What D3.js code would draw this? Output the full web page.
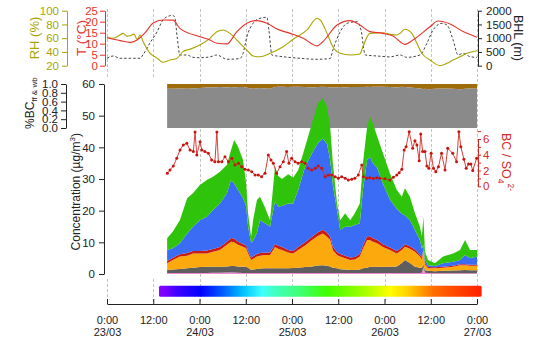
<!DOCTYPE html>
<html><head><meta charset="utf-8">
<script src="https://cdn.jsdelivr.net/npm/d3@7"></script>
<style>
html,body{margin:0;padding:0;background:#fff;}
svg{display:block;font-family:"Liberation Sans",Arial,Helvetica,sans-serif;}
</style></head><body>
<svg id="chart" width="542" height="347"></svg>
<script>
// ---------- time axis (hours since 23/03 00:00) ----------
const tickHours = [0, 12, 24, 36, 48, 60, 72, 84, 96];
const tickTime  = ["0:00", "12:00", "0:00", "12:00", "0:00", "12:00", "0:00", "12:00", "0:00"];
const tickDate  = ["23/03", "", "24/03", "", "25/03", "", "26/03", "", "27/03"];

// ---------- meteorology ----------
const tempHours = [0, 3.4, 6.0, 7.8, 9.9, 11.9, 14.5, 17.1, 18.9, 24.1, 26.7, 28.5, 31.1, 33.7, 37.1, 38.9, 41.5, 44.1, 47.5, 50.9, 54.5, 56.0, 59.7, 63.1, 65.6, 68.2, 71.6, 74.2, 77.3, 79.4, 83.8, 85.9, 89.0, 92.4, 96.0];
const tempC     = [12.7, 11.4, 10.6, 11.7, 15, 19.3, 20.8, 20.7, 17, 13.2, 11.7, 10.2, 9.9, 15.5, 20, 20.5, 19.3, 16.7, 14.7, 12.5, 9, 10.9, 18.5, 20.5, 18.5, 15.5, 14.7, 13.5, 9.7, 11.7, 17.7, 20.3, 19, 15.5, 12.9];

const rhHours = [0, 1.6, 2.6, 4.2, 5.2, 6.0, 7.0, 7.8, 8.6, 9.3, 11.2, 13.0, 14.5, 16.3, 18.2, 19.7, 21.5, 24.1, 26.7, 28.5, 30.1, 31.9, 34.5, 36.3, 37.9, 39.7, 42.3, 45.7, 48.3, 51.9, 54.5, 55.3, 57.1, 58.6, 60.5, 63.1, 65.6, 66.4, 68.2, 71.6, 73.4, 75.2, 76.0, 77.3, 79.1, 80.4, 81.7, 83.8, 86.4, 88.2, 89.8, 91.6, 93.4, 96.0];
const rhPct   = [61.3, 60, 62, 67, 63, 63.6, 66, 58.4, 64.7, 56, 38, 31, 25, 28.3, 31, 40.4, 44, 50, 59.8, 69.5, 72, 67, 52.6, 42.8, 34, 33, 38, 47.6, 58.4, 72, 89, 86.5, 67, 47.6, 38, 35.6, 37, 47.6, 67, 68, 65.6, 64.6, 67, 73, 67, 52.6, 38, 28.3, 20, 23.5, 28.3, 33, 38, 41.8];

const bhlHours = [0, 1.6, 3.4, 6.0, 8.6, 9.3, 11.2, 13.0, 14.5, 16.3, 16.9, 17.6, 18.2, 18.9, 20.8, 22.3, 24.1, 26.7, 28.5, 31.1, 34.5, 35.3, 36.3, 37.9, 39.7, 41.5, 42.0, 42.8, 45.7, 50.1, 54.5, 57.9, 58.6, 60.5, 62.3, 64.9, 65.9, 67.0, 70.1, 73.4, 76.0, 77.8, 81.2, 83.0, 84.6, 86.9, 88.2, 89.8, 91.1, 92.4, 94.2, 96.0];
const bhlM     = [269, 353, 269, 270, 270, 389, 840, 1236, 1662, 1818, 1844, 1750, 1055, 389, 389, 305, 290, 320, 389, 233, 260, 451, 1055, 1542, 1724, 1760, 1300, 389, 327, 270, 233, 260, 571, 1236, 1542, 1600, 1300, 389, 353, 320, 389, 305, 389, 815, 1298, 1542, 1480, 935, 389, 451, 327, 305];

// ---------- aerosol composition (µg/m3) ----------
const compHours = [15.6, 17.1, 18.9, 20.8, 22.3, 24.1, 25.9, 27.5, 29.3, 31.1, 32.2, 33.0, 34.0, 35.3, 36.1, 36.6, 37.4, 37.9, 38.9, 39.7, 41.0, 42.3, 43.6, 44.4, 45.4, 47.0, 48.3, 49.6, 51.4, 53.2, 54.7, 56.0, 57.1, 57.9, 58.6, 59.7, 60.5, 61.8, 63.1, 64.3, 65.6, 66.4, 67.5, 68.2, 69.0, 70.1, 71.6, 73.4, 75.2, 76.5, 77.3, 78.6, 79.9, 81.2, 81.7, 82.1, 82.5, 83.3, 85.1, 87.2, 89.8, 91.6, 92.9, 94.2, 96.0];
const chl = [.3, .3, .3, .3, .3, .3, .3, .4, .4, .5, .5, .5, .4, .3, .3, .3, .3, .3, .3, .3, .3, .3, .3, .3, .3, .3, .3, .3, .3, .3, .3, .3, .3, .3, .3, .3, .3, .3, .3, .3, .3, .3, .3, .3, .3, .3, .3, .3, .3, .3, .3, .3, .3, .3, .4, 2.3, .4, .3, .2, .2, .2, .2, .2, .2, .2];
const bc  = [1.0, 1.1, 1.3, 1.5, 1.7, 1.9, 2.0, 1.9, 1.9, 1.9, 2.0, 2.0, 2.0, 2.0, 2.0, 1.7, 1.0, 1.1, 1.3, 1.4, 1.5, 1.5, 1.5, 1.5, 1.5, 1.5, 1.6, 1.7, 1.9, 2.1, 2.4, 2.5, 2.3, 2.1, 1.7, 1.5, 1.2, 1.1, 1.0, 1.0, 1.1, 1.5, 1.7, 2.0, 2.0, 2.0, 2.0, 2.0, 2.1, 3.2, 4.1, 3.2, 2.0, 1.7, 1.5, .7, .8, .7, .7, .8, .9, 1.0, 1.1, 1.0, 1.0];
const nh4 = [2.1, 3.0, 3.9, 4.0, 4.5, 4.3, 4.2, 4.7, 5.3, 6.8, 7.7, 7.5, 6.8, 6.3, 5.8, 4.5, 3.1, 3.4, 3.9, 4.1, 4.2, 4.2, 6.7, 6.2, 5.8, 5.0, 4.6, 5.6, 6.8, 8.3, 9.3, 10.0, 9.2, 8.3, 5.6, 4.2, 4.0, 3.6, 3.1, 3.3, 4.1, 6.2, 8.7, 8.4, 7.9, 7.4, 6.2, 5.3, 4.1, 4.1, 4.2, 4.5, 4.7, 3.5, 2.7, 4.6, 1.8, .8, .9, 1.0, 1.2, 1.6, 1.5, 1.4, 1.4];
const so4 = [.7, .7, .7, .8, .8, .8, .9, .9, .9, 1.0, 1.2, 1.2, 1.0, .9, .9, .8, .7, .8, .8, .8, .8, .8, 1.0, 1.0, .9, .8, .8, .9, 1.0, 1.1, 1.2, 1.2, 1.2, 1.1, 1.0, .9, .8, .8, .8, .8, .8, 1.0, 1.2, 1.2, 1.1, 1.0, .9, .8, .8, .8, .8, .8, .7, .6, .6, .4, .4, .4, .3, .3, .3, .3, .3, .3, .3];
const no3 = [3.5, 3.0, 3.5, 6.2, 7.6, 9.7, 10.7, 12.3, 13.8, 15.3, 18.3, 17.4, 16.3, 14.5, 12.3, 7.6, 4.6, 4.9, 6.7, 10.4, 9.2, 8.1, 13.5, 12.3, 13.0, 14.7, 15.0, 18.0, 23.9, 26.3, 28.1, 28.8, 28.0, 24.2, 19.4, 13.1, 7.7, 9.1, 9.7, 10.1, 9.7, 17.5, 24.1, 25.1, 23.7, 22.8, 19.1, 15.1, 13.2, 10.6, 9.1, 8.2, 6.2, 4.6, 2.8, 1.2, 1.1, .6, .4, 1.1, 1.3, 1.3, 2.9, 2.1, 2.6];
const org = [3.7, 5.3, 7.3, 11.1, 10.6, 11.1, 11.6, 10.5, 10.0, 8.9, 9.5, 13.7, 13.7, 12.0, 7.3, 4.3, 2.1, 6.5, 10.4, 7.4, 5.0, 2.1, 11.0, 9.7, 8.5, 9.2, 8.2, 6.3, 6.3, 9.5, 12.6, 12.7, 11.8, 10.5, 7.0, 2.3, 3.0, 4.3, 2.1, 3.7, 6.3, 8.5, 10.5, 12.7, 12.6, 9.9, 9.6, 8.3, 6.0, 5.4, 8.6, 7.4, 5.3, 4.2, 4.0, 8.8, 2.5, 1.6, .9, 2.1, 2.6, 3.2, 4.7, 2.6, 2.1];

// fossil-fuel share of BC (the rest is wood burning)
const bcFF = [.89, .89, .90, .89, .90, .91, .92, .92, .93, .92, .93, .92, .93, .93, .92, .91, .90, .89, .90, .91, .90, .89, .93, .94, .94, .93, .94, .94, .93, .92, .93, .94, .93, .92, .92, .92, .93, .92, .93, .93, .93, .93, .94, .93, .94, .94, .94, .93, .92, .94, .93, .92, .91, .90, .89, .88, .89, .88, .89, .90, .89, .88, .89, .90, .89];

// ---------- BC / SO4 ratio ----------
const ratioHours = [15.65, 16.35, 17.2, 18.1, 18.95, 19.8, 20.7, 21.55, 22.4, 22.85, 23.3, 24.15, 24.6, 25.4, 26.3, 27.15, 28.0, 28.5, 28.9, 29.8, 30.6, 31.5, 32.4, 33.2, 34.1, 34.95, 35.8, 36.7, 37.55, 38.4, 39.25, 40.1, 41.0, 41.85, 42.55, 43.15, 44.0, 44.9, 45.75, 46.6, 47.2, 47.9, 48.8, 49.6, 50.5, 51.4, 52.2, 53.1, 54.0, 54.8, 55.7, 56.6, 57.4, 58.3, 59.2, 60.0, 60.9, 61.8, 62.6, 63.5, 64.3, 65.2, 66.1, 66.5, 67.4, 68.2, 69.1, 70.0, 70.8, 72.1, 73.4, 74.3, 75.2, 75.8, 76.5, 77.1, 77.6, 78.4, 79.3, 79.9, 80.4, 81.0, 81.4, 81.9, 82.5, 83.0, 83.5, 84.1, 84.7, 85.3, 86.0, 86.8, 87.7, 88.4, 89.7, 90.7, 91.3, 91.8, 92.6, 93.2, 93.8, 94.4, 94.9, 95.9];
const ratioVal   = [1.65, 2.07, 2.58, 3.55, 4.6, 5.24, 5.45, 4.6, 4.4, 6.9, 3.97, 5.66, 4.6, 4.4, 4.19, 3.34, 3.12, 6.9, 3.12, 3.12, 3.76, 3.12, 3.55, 2.7, 2.92, 2.49, 2.16, 2.07, 1.85, 1.43, 1.43, 1.22, 1.65, 3.97, 3.34, 2.92, 1.65, 2.49, 3.12, 4.4, 2.92, 3.55, 3.12, 2.92, 3.12, 2.92, 2.28, 2.07, 2.28, 2.58, 2.28, 1.22, 1.43, 1.43, 1.22, 1.02, 1.22, 1.02, 0.8, 0.9, 1.02, 1.43, 2.7, 1.22, 1.02, 1.1, 1.0, 1.1, 1.02, 0.95, 0.8, 1.14, 1.43, 1.73, 2.16, 4.6, 5.03, 6.93, 4.82, 5.79, 5.24, 3.25, 6.64, 4.4, 4.4, 2.58, 2.28, 4.19, 2.28, 1.85, 2.49, 4.19, 2.07, 4.82, 4.19, 3.12, 6.93, 5.03, 3.43, 2.28, 2.83, 2.83, 2.0, 3.55];

// ---------- time colour bar ----------
const barHours  = [13.5, 97.2];
const barStops  = [0, .02, .054, .13, .2, .26, .32, .36, .44, .52, .64, .716, .77, .81, .85, .9, 1];
const barColors = ["#8a00ff", "#7a00ff", "#4000ff", "#0000ff", "#0060ff", "#00c0ff", "#40ffff", "#40ffc0", "#40ff70", "#40ff00", "#a8ff00", "#ffff00", "#ffd000", "#ffa000", "#ff7000", "#ff5000", "#ff2000"];

// ================= drawing =================
const svg = d3.select("#chart");
const FONT = '"Liberation Sans",Arial,Helvetica,sans-serif';

const colRH = "#aaa400", colT = "#e4332b", colBHL = "#444", colRatio = "#d32a24";
const layerColors = { chl: "#f48ad6", bc: "#5e5e5e", nh4: "#fca90d", so4: "#c91a14", no3: "#3b6cf6", org: "#2fc40b" };

const x = d3.scaleLinear().domain([0, 96]).range([107, 477]);
const yRH = d3.scaleLinear().domain([20, 100]).range([65.7, 10.7]);
const yT = d3.scaleLinear().domain([0, 25]).range([65.7, 10.7]);
const yBHL = d3.scaleLinear().domain([0, 2000]).range([65.7, 10.7]);
const yFrac = d3.scaleLinear().domain([0, 1]).range([128, 84]);
const yC = d3.scaleLinear().domain([0, 60]).range([274, 84]);
const yR = d3.scaleLinear().domain([0, 6]).range([186.3, 139]);

// gradient for the colour bar
const defs = svg.append("defs");
const grad = defs.append("linearGradient").attr("id", "timeBar").attr("x1", "0%").attr("x2", "100%");
barStops.forEach((s, i) => grad.append("stop").attr("offset", s).attr("stop-color", barColors[i]));

// vertical dashed grid lines every 12 h
const grid = svg.append("g").attr("stroke", "#c4c4c4").attr("stroke-dasharray", "3,2").attr("stroke-width", 1);
tickHours.forEach(h => {
  const gx = Math.round(x(h)) + 0.5;
  if (h >= compHours[0]) {
    grid.append("line").attr("x1", gx).attr("x2", gx).attr("y1", 9).attr("y2", 304);
  } else {
    grid.append("line").attr("x1", gx).attr("x2", gx).attr("y1", 9).attr("y2", 79);
    grid.append("line").attr("x1", gx).attr("x2", gx).attr("y1", 279).attr("y2", 304);
  }
});

// ---- top panel: RH, T and boundary-layer height ----
const lineOf = (hs, vs, ys) => d3.line().x((d, i) => x(hs[i])).y(d => ys(d)).curve(d3.curveMonotoneX)(vs);
svg.append("path").attr("d", lineOf(bhlHours, bhlM, yBHL)).attr("fill", "none").attr("stroke", colBHL).attr("stroke-width", 1).attr("stroke-dasharray", "2.5,2");
svg.append("path").attr("d", lineOf(rhHours, rhPct, yRH)).attr("fill", "none").attr("stroke", colRH).attr("stroke-width", 1.1);
svg.append("path").attr("d", lineOf(tempHours, tempC, yT)).attr("fill", "none").attr("stroke", colT).attr("stroke-width", 1.1);

// ---- BC source apportionment band ----
const ffArea = d3.area().x((d, i) => x(compHours[i])).y0(yFrac(0)).y1(d => yFrac(d));
const wbArea = d3.area().x((d, i) => x(compHours[i])).y0(d => yFrac(d)).y1(yFrac(1));
svg.append("path").attr("d", wbArea(bcFF)).attr("fill", "#a06c0a");
svg.append("path").attr("d", ffArea(bcFF)).attr("fill", "#8a8a8a");

// ---- stacked composition ----
const keys = ["chl", "bc", "nh4", "so4", "no3", "org"];
const series = { chl, bc, nh4, so4, no3, org };
const rows = compHours.map((h, i) => { const r = { h }; keys.forEach(k => r[k] = series[k][i]); return r; });
const stacked = d3.stack().keys(keys)(rows);
const stackArea = d3.area().x(d => x(d.data.h)).y0(d => yC(d[0])).y1(d => yC(d[1]));
svg.append("g").selectAll("path").data(stacked).join("path")
  .attr("d", stackArea).attr("fill", d => layerColors[d.key]);

// ---- BC / SO4 ratio ----
const ratioLine = d3.line().x((d, i) => x(ratioHours[i])).y(d => yR(d));
svg.append("path").attr("d", ratioLine(ratioVal)).attr("fill", "none").attr("stroke", colRatio).attr("stroke-width", 0.9);
svg.append("g").selectAll("circle").data(ratioVal).join("circle")
  .attr("cx", (d, i) => x(ratioHours[i])).attr("cy", d => yR(d)).attr("r", 1.5).attr("fill", "#c8140f");

// ================= axes =================
function styleAxis(g, color, size) {
  g.attr("color", color).attr("font-size", size).attr("font-family", FONT);
  g.select(".domain").attr("stroke-width", 1);
}
const intFmt = d3.format("d");
// RH
svg.append("g").attr("transform", "translate(67,0)")
  .call(d3.axisLeft(yRH).tickValues([20, 40, 60, 80, 100]).tickFormat(intFmt).tickSizeInner(5).tickSizeOuter(0).tickPadding(3))
  .call(g => styleAxis(g, colRH, 11.5));
// T
svg.append("g").attr("transform", "translate(105,0)")
  .call(d3.axisLeft(yT).tickValues([0, 5, 10, 15, 20, 25]).tickFormat(intFmt).tickSizeInner(5).tickSizeOuter(0).tickPadding(2))
  .call(g => styleAxis(g, colT, 11.5));
// BHL
svg.append("g").attr("transform", "translate(478,0)")
  .call(d3.axisRight(yBHL).tickValues([0, 500, 1000, 1500, 2000]).tickFormat(intFmt).tickSizeInner(4).tickSizeOuter(0).tickPadding(4))
  .call(g => styleAxis(g, "#222", 11.5));
// %BC
svg.append("g").attr("transform", "translate(66,0)")
  .call(d3.axisLeft(yFrac).tickValues([0, .2, .4, .6, .8, 1]).tickFormat(d3.format(".1f")).tickSizeInner(5).tickSizeOuter(0).tickPadding(3))
  .call(g => styleAxis(g, "#222", 11.5));
// concentration
svg.append("g").attr("transform", "translate(104,0)")
  .call(d3.axisLeft(yC).tickValues([0, 10, 20, 30, 40, 50, 60]).tickFormat(intFmt).tickSizeInner(5).tickSizeOuter(0).tickPadding(4))
  .call(g => styleAxis(g, "#222", 11.5));
// ratio
svg.append("g").attr("transform", "translate(478,0)")
  .call(d3.axisRight(yR).tickValues([0, 1, 2, 3, 4, 5, 6, 7]).tickFormat(d => d % 2 === 0 ? d : "").tickSizeInner(3).tickSizeOuter(0).tickPadding(2))
  .call(g => styleAxis(g, colRatio, 11.5));
// time
const gxAxis = svg.append("g").attr("transform", "translate(0,304)")
  .call(d3.axisBottom(x).tickValues(tickHours).tickFormat(() => "").tickSizeInner(-5).tickSizeOuter(0).tickPadding(12.5))
  .call(g => styleAxis(g, "#222", 11));
gxAxis.selectAll(".tick text").each(function (d, i) {
  const t = d3.select(this);
  t.append("tspan").attr("x", 0).text(tickTime[i]);
  t.append("tspan").attr("x", 0).attr("dy", "1.1em").text(tickDate[i]);
});

// ================= axis titles =================
function vlabel(xp, yp, rot, color, size, anchor) {
  return svg.append("text").attr("transform", `translate(${xp},${yp}) rotate(${rot})`)
    .attr("fill", color).attr("font-size", size).attr("font-family", FONT).attr("text-anchor", anchor);
}
vlabel(39, 38, -90, colRH, 13, "middle").text("RH (%)");
vlabel(86, 38, -90, colT, 13.5, "middle").text("T (°C)");
vlabel(514, 38, 90, "#222", 12.5, "middle").text("BHL (m)");

const bcLab = vlabel(34, 129, -90, "#222", 12, "start");
bcLab.append("tspan").text("%BC");
bcLab.append("tspan").attr("font-size", 8).attr("dy", 3).text("ff & wb");

const cLab = vlabel(80, 133, -90, "#222", 12, "end");
cLab.append("tspan").text("Concentration (µg/m");
cLab.append("tspan").attr("font-size", 8).attr("dy", -5).text("3");
cLab.append("tspan").attr("dy", 5).text(")");

const rLab = vlabel(502, 133, 90, colRatio, 12.5, "start");
rLab.append("tspan").text("BC / SO");
rLab.append("tspan").attr("font-size", 8.5).attr("dy", 4).text("4");
rLab.append("tspan").attr("font-size", 8.5).attr("dy", -10).text("2-");

// ---- time colour bar ----
svg.append("rect").attr("x", x(barHours[0])).attr("width", x(barHours[1]) - x(barHours[0]))
  .attr("y", 285.7).attr("height", 11).attr("rx", 1.5).attr("fill", "url(#timeBar)");
</script>
</body></html>
